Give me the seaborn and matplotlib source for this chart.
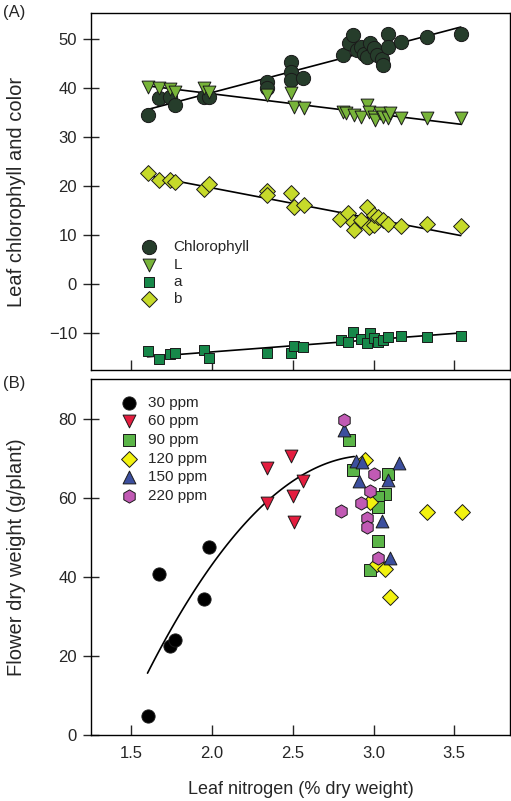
import numpy as np
import pandas as pd
import matplotlib
matplotlib.use("Agg")
import matplotlib.pyplot as plt
import seaborn as sns

sns.set_theme(style="ticks")
plt.rcParams["font.family"] = ["Liberation Sans", "DejaVu Sans"]

# ---- Panel A: leaf chlorophyll and colour vs leaf N ----
chl_x = [1.60, 1.67, 1.74, 1.77, 1.95, 1.98, 2.34, 2.34, 2.49, 2.49, 2.49, 2.56, 2.81, 2.85,
         2.87, 2.90, 2.92, 2.94, 2.96, 2.98, 3.00, 3.02, 3.05, 3.06, 3.09, 3.09, 3.17, 3.33, 3.54]
chl_y = [34.5, 38.0, 38.3, 36.6, 38.3, 38.3, 41.3, 40.0, 45.4, 43.4, 41.7, 42.2, 46.8, 49.2,
         50.9, 47.8, 48.5, 47.1, 46.4, 49.2, 48.2, 46.8, 46.1, 44.8, 51.2, 48.5, 49.5, 50.5, 51.2]

L_x = [1.60, 1.67, 1.74, 1.77, 1.95, 1.98, 2.34, 2.49, 2.51, 2.57, 2.81, 2.83, 2.88, 2.92,
       2.96, 2.97, 3.00, 3.01, 3.04, 3.06, 3.09, 3.10, 3.17, 3.33, 3.54]
L_y = [40.3, 40.0, 39.8, 39.3, 40.0, 39.3, 38.6, 39.0, 36.2, 35.9, 35.2, 35.0, 34.6, 34.2,
       36.6, 35.2, 34.2, 33.5, 34.9, 34.2, 33.9, 34.9, 33.9, 33.9, 33.9]

a_x = [1.60, 1.67, 1.74, 1.77, 1.95, 1.98, 2.34, 2.49, 2.51, 2.56, 2.80, 2.84, 2.87, 2.92,
       2.96, 2.98, 3.00, 3.03, 3.06, 3.09, 3.17, 3.33, 3.54]
a_y = [-13.6, -15.3, -14.2, -14.0, -13.4, -15.0, -14.0, -14.0, -12.7, -12.9, -11.4, -11.7,
       -9.7, -11.2, -12.0, -10.0, -11.0, -11.7, -11.4, -10.7, -10.6, -10.7, -10.6]

b_x = [1.60, 1.67, 1.74, 1.77, 1.95, 1.98, 2.34, 2.34, 2.49, 2.51, 2.57, 2.79, 2.84, 2.87,
       2.88, 2.92, 2.96, 2.97, 3.00, 3.00, 3.03, 3.06, 3.09, 3.17, 3.33, 3.54]
b_y = [22.7, 21.4, 21.3, 20.8, 19.4, 20.5, 19.1, 18.2, 18.7, 15.8, 16.2, 13.3, 14.6, 12.8,
       11.1, 13.1, 15.7, 11.8, 12.1, 14.1, 13.8, 13.1, 12.3, 11.9, 12.3, 11.9]

# ---- Panel B: flower dry weight by N rate ----
n30_x = [1.60, 1.67, 1.74, 1.77, 1.95, 1.98]
n30_y = [4.9, 40.7, 22.6, 24.1, 34.3, 47.5]
n60_x = [2.34, 2.49, 2.56, 2.50, 2.34, 2.51]
n60_y = [67.4, 70.5, 64.2, 60.4, 58.7, 53.9]
n90_x = [2.85, 2.87, 3.09, 3.07, 3.03, 3.03, 3.03, 2.98]
n90_y = [74.7, 67.0, 66.1, 60.9, 60.2, 57.7, 49.1, 41.6]
n120_x = [2.95, 2.98, 3.33, 3.55, 3.02, 3.07, 3.10]
n120_y = [69.5, 59.0, 56.4, 56.4, 43.3, 42.0, 34.9]
n150_x = [2.82, 2.89, 2.93, 3.16, 3.09, 2.91, 3.05, 3.10]
n150_y = [77.0, 69.3, 69.0, 68.8, 64.4, 64.3, 54.2, 44.7]
n220_x = [2.82, 3.00, 2.98, 2.92, 2.80, 2.96, 2.96, 3.03]
n220_y = [79.6, 66.0, 61.7, 58.6, 56.7, 54.8, 52.5, 44.7]

# quadratic fit shown in panel B (coefficients, x-range)
quad_coef = [-29.4, 174.5, -188.3]
quad_range = [1.60, 2.88]

series_a = [
    ("Chlorophyll", chl_x, chl_y, "o", "#263d2b", 105),
    ("L", L_x, L_y, "v", "#78b43a", 85),
    ("a", a_x, a_y, "s", "#17884a", 60),
    ("b", b_x, b_y, "D", "#c6da2a", 65),
]
series_b = [
    ("30 ppm", n30_x, n30_y, "o", "#000000", 90),
    ("60 ppm", n60_x, n60_y, "v", "#e41d3f", 85),
    ("90 ppm", n90_x, n90_y, "s", "#5bb548", 65),
    ("120 ppm", n120_x, n120_y, "D", "#f2f20f", 65),
    ("150 ppm", n150_x, n150_y, "^", "#3c4f9e", 85),
    ("220 ppm", n220_x, n220_y, "h", "#c15ab4", 90),
]

fig = plt.figure(figsize=(5.11, 8.01), dpi=100)
axA = fig.add_axes([91 / 511, 431 / 801, 419 / 511, 357 / 801])
axB = fig.add_axes([91 / 511, 66 / 801, 419 / 511, 356 / 801])

for name, xs, ys, mk, col, s in series_a:
    sns.regplot(x=xs, y=ys, scatter=False, ci=None, truncate=True, ax=axA,
                line_kws={"color": "black", "lw": 1.2, "zorder": 1})
for name, xs, ys, mk, col, s in series_a:
    sns.scatterplot(x=xs, y=ys, marker=mk, color=col, s=s, edgecolor="#1a1a1a",
                    linewidth=0.7, label=name, ax=axA, zorder=3)

for name, xs, ys, mk, col, s in series_b:
    sns.scatterplot(x=xs, y=ys, marker=mk, color=col, s=s, edgecolor="#1a1a1a",
                    linewidth=0.7, label=name, ax=axB, zorder=3)
xq = np.linspace(quad_range[0], quad_range[1], 100)
sns.lineplot(x=xq, y=np.polyval(quad_coef, xq), color="black", lw=1.2, ax=axB, zorder=1)

for ax in (axA, axB):
    ax.set_xlim(1.25, 3.845)
    ax.set_xticks([1.5, 2.0, 2.5, 3.0, 3.5])
    ax.tick_params(axis="x", direction="in", length=7, width=1, pad=8, labelsize=12)
    ax.tick_params(axis="y", direction="inout", length=12, width=1, pad=4, labelsize=12)
    for sp in ax.spines.values():
        sp.set_linewidth(1.0)
        sp.set_color("black")

axA.set_ylim(-17.5, 55.4)
axA.set_yticks([-10, 0, 10, 20, 30, 40, 50])
axA.set_yticklabels(["\u221210", "0", "10", "20", "30", "40", "50"])
axA.tick_params(axis="x", labelbottom=False)
axB.set_ylim(0, 90)
axB.set_yticks([0, 20, 40, 60, 80])

axA.set_ylabel("Leaf chlorophyll and color", fontsize=14.5)
axB.set_ylabel("Flower dry weight (g/plant)", fontsize=14.5)
axA.yaxis.set_label_coords(-0.155, 0.5)
axB.yaxis.set_label_coords(-0.155, 0.5)
axB.set_xlabel("Leaf nitrogen (% dry weight)", fontsize=13, labelpad=14)

axA.legend(loc="upper left", bbox_to_anchor=(0.102, 0.385), frameon=False, fontsize=11,
           handlelength=1.0, handletextpad=1.1, labelspacing=0.22, borderpad=0)
axB.legend(loc="upper left", bbox_to_anchor=(0.055, 0.974), frameon=False, fontsize=11,
           handlelength=1.0, handletextpad=0.7, labelspacing=0.3, borderpad=0)

fig.text(3 / 511, 1 - 12 / 801, "(A)", fontsize=12, va="center", ha="left")
fig.text(3 / 511, 1 - 383 / 801, "(B)", fontsize=12, va="center", ha="left")

fig.savefig("out.png", dpi=100)
